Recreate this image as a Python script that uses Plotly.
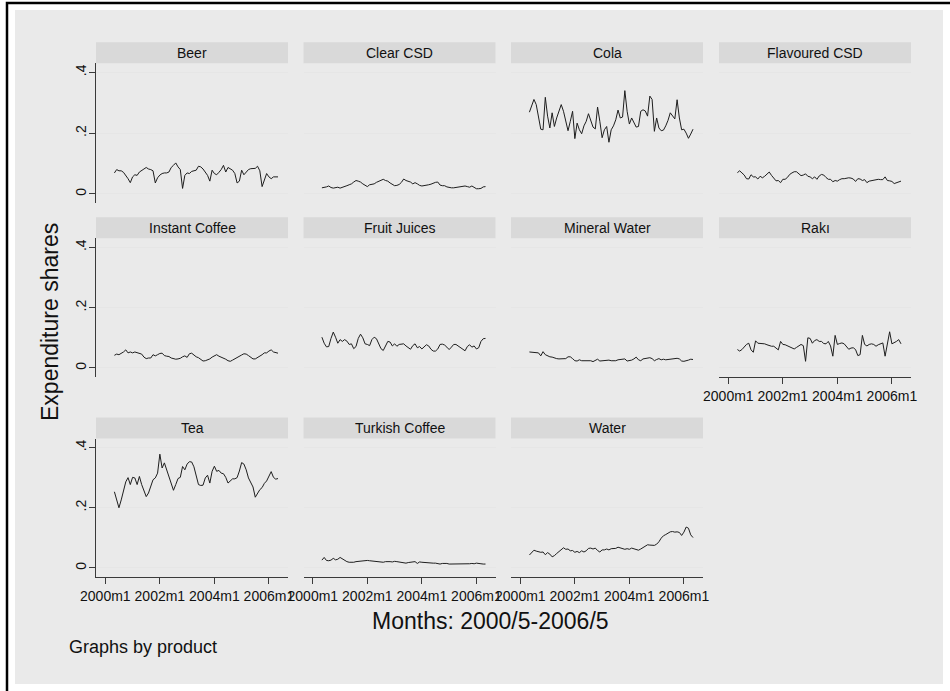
import plotly.graph_objects as go

# Monthly expenditure shares by product, 2000m5 - 2006m5 (Stata %tm month codes)
months = list(range(484, 557))
tick_months = [480, 504, 528, 552]
tick_labels = ["2000m1", "2002m1", "2004m1", "2006m1"]
share_ticks = [0, 0.2, 0.4]
share_labels = ["0", ".2", ".4"]

products = ["Beer", "Clear CSD", "Cola", "Flavoured CSD", "Instant Coffee",
            "Fruit Juices", "Mineral Water", "Rakı", "Tea", "Turkish Coffee", "Water"]

beer = [.069, .080, .076, .076, .071, .061, .050, .037, .056, .063,
        .061, .072, .076, .082, .087, .082, .080, .076, .036, .053,
        .062, .067, .069, .069, .072, .087, .094, .102, .089, .080,
        .018, .061, .069, .067, .074, .076, .078, .091, .089, .082,
        .072, .061, .042, .078, .067, .063, .071, .080, .094, .072,
        .087, .083, .078, .067, .036, .042, .078, .063, .072, .080,
        .083, .083, .084, .091, .076, .024, .045, .067, .056, .050,
        .056, .056, .056]
clear_csd = [.020, .021, .023, .026, .021, .019, .021, .022, .019, .021,
             .024, .027, .030, .033, .039, .044, .042, .039, .033, .028,
             .024, .030, .032, .033, .038, .042, .046, .048, .044, .042,
             .036, .030, .027, .028, .031, .038, .049, .044, .041, .039,
             .033, .037, .033, .028, .026, .027, .027, .030, .032, .036,
             .038, .039, .029, .027, .027, .023, .021, .020, .020, .021,
             .022, .023, .024, .026, .024, .022, .026, .020, .017, .017,
             .018, .023, .024]
cola = [.269, .289, .311, .294, .247, .213, .211, .318, .256, .217,
        .267, .222, .250, .270, .294, .272, .239, .208, .239, .272,
        .182, .233, .211, .198, .224, .239, .264, .244, .220, .214,
        .286, .239, .185, .211, .222, .170, .211, .224, .244, .276,
        .250, .253, .340, .272, .230, .250, .233, .220, .222, .272,
        .277, .273, .256, .322, .311, .206, .250, .217, .208, .210,
        .224, .242, .267, .256, .247, .310, .250, .211, .213, .200,
        .183, .197, .213]
flavoured_csd = [.070, .076, .069, .062, .050, .049, .063, .056, .056, .049,
                 .058, .053, .058, .066, .072, .061, .051, .043, .044, .037,
                 .048, .048, .054, .064, .069, .073, .073, .067, .060, .062,
                 .066, .058, .056, .050, .056, .048, .059, .064, .062, .054,
                 .048, .048, .040, .044, .042, .047, .050, .050, .052, .053,
                 .052, .049, .041, .050, .049, .044, .047, .037, .042, .044,
                 .044, .047, .048, .047, .047, .056, .044, .043, .041, .034,
                 .037, .039, .042]
instant_coffee = [.042, .046, .044, .048, .053, .060, .050, .053, .050, .053,
                  .050, .049, .046, .036, .031, .033, .033, .044, .040, .044,
                  .048, .049, .041, .039, .038, .033, .030, .029, .030, .032,
                  .037, .040, .035, .047, .049, .042, .037, .034, .028, .023,
                  .024, .027, .030, .036, .040, .044, .039, .036, .033, .029,
                  .024, .022, .026, .031, .036, .039, .043, .047, .046, .041,
                  .036, .030, .030, .034, .039, .044, .050, .050, .056, .060,
                  .053, .052, .049]
fruit_juices = [.102, .082, .070, .071, .098, .119, .102, .082, .094, .088,
                .094, .089, .078, .080, .064, .071, .098, .112, .100, .080,
                .078, .074, .094, .102, .097, .078, .064, .058, .073, .088,
                .086, .073, .080, .072, .078, .080, .080, .073, .068, .062,
                .074, .080, .067, .071, .063, .071, .077, .073, .062, .056,
                .056, .063, .078, .079, .076, .069, .061, .069, .078, .078,
                .073, .067, .062, .057, .071, .077, .069, .073, .063, .067,
                .088, .097, .098]
mineral_water = [.053, .052, .051, .050, .050, .040, .054, .044, .039, .037,
                 .036, .033, .031, .030, .031, .030, .031, .037, .037, .031,
                 .024, .023, .027, .024, .024, .024, .024, .024, .021, .024,
                 .029, .023, .024, .024, .026, .026, .024, .023, .024, .027,
                 .028, .029, .030, .023, .024, .026, .030, .036, .027, .024,
                 .030, .031, .032, .034, .031, .024, .028, .031, .027, .029,
                 .027, .028, .028, .029, .029, .032, .030, .023, .022, .023,
                 .026, .029, .028]
raki = [.061, .056, .061, .069, .078, .082, .060, .052, .090, .082,
        .082, .081, .080, .077, .074, .072, .072, .066, .060, .088,
        .078, .077, .073, .069, .066, .063, .068, .073, .078, .074,
        .022, .100, .098, .082, .091, .094, .088, .088, .081, .080,
        .088, .073, .039, .108, .078, .081, .083, .080, .070, .062,
        .066, .067, .061, .041, .044, .108, .078, .073, .078, .080,
        .078, .072, .077, .080, .083, .039, .078, .120, .080, .083,
        .088, .094, .080]
tea = [.253, .227, .200, .226, .257, .286, .300, .277, .301, .299,
       .277, .304, .277, .255, .237, .249, .268, .293, .299, .315,
       .378, .332, .349, .326, .301, .281, .258, .277, .297, .301,
       .337, .326, .345, .353, .352, .336, .301, .277, .274, .275,
       .299, .308, .282, .321, .338, .321, .324, .315, .313, .301,
       .282, .288, .296, .296, .300, .322, .350, .345, .326, .299,
       .286, .269, .235, .249, .260, .267, .281, .289, .307, .320,
       .301, .295, .297]
turkish_coffee = [.026, .035, .025, .024, .026, .032, .027, .029, .035, .030,
                  .024, .021, .019, .018, .019, .021, .022, .023, .024, .025,
                  .025, .024, .023, .022, .020, .020, .018, .019, .021, .022,
                  .021, .020, .022, .021, .020, .019, .019, .016, .018, .019,
                  .020, .021, .015, .020, .019, .018, .018, .016, .015, .016,
                  .016, .015, .013, .015, .016, .015, .013, .013, .012, .013,
                  .013, .012, .013, .013, .012, .014, .015, .014, .016, .014,
                  .014, .013, .013]
water = [.043, .053, .059, .056, .054, .052, .053, .044, .051, .046,
         .037, .041, .048, .055, .060, .067, .062, .063, .057, .058,
         .052, .055, .051, .057, .053, .057, .065, .066, .063, .066,
         .058, .053, .060, .060, .063, .060, .064, .064, .065, .069,
         .066, .065, .062, .064, .062, .066, .063, .060, .059, .063,
         .068, .073, .077, .076, .075, .075, .079, .087, .099, .107,
         .111, .115, .120, .121, .119, .120, .118, .108, .119, .136,
         .132, .110, .101]

series = [beer, clear_csd, cola, flavoured_csd, instant_coffee, fruit_juices,
          mineral_water, raki, tea, turkish_coffee, water]

# ---- page geometry (pixels) ----
W, H = 950, 691


def px(x):
    return x / W


def py(y):
    return 1 - y / H


col_left = [96, 303.5, 511, 719]
panel_w = 192
row_span = [(63.3, 203), (238.3, 377), (438.5, 577)]
strip_h = 21

FONT = "Liberation Sans, Arial, Helvetica, sans-serif"
INK = "#111111"
AXIS = "#3a3a3a"
GRID = "#e6e6e6"
BG = "#eaeaea"
STRIP = "#d9d9d9"

n_cols = 4
n_panels = len(products)
# last panel in each column carries the time axis
bottom_of_col = {}
for k in range(n_panels):
    bottom_of_col[k % n_cols] = k

fig = go.Figure()
layout_axes = {}
shapes = []
annotations = []

for k, (name, vals) in enumerate(zip(products, series)):
    r, c = divmod(k, n_cols)
    sfx = "" if k == 0 else str(k + 1)
    x0, x1 = col_left[c], col_left[c] + panel_w
    ytop, ybot = row_span[r]

    fig.add_trace(go.Scatter(
        x=months, y=vals, mode="lines",
        line=dict(color="#1e1e1e", width=1),
        xaxis="x" + sfx, yaxis="y" + sfx,
        showlegend=False, hoverinfo="skip"))

    show_x = bottom_of_col[c] == k
    show_y = c == 0

    layout_axes["xaxis" + sfx] = dict(
        domain=[px(x0), px(x1)], anchor="y" + sfx, automargin=False,
        range=[475.9, 560.4],
        tickmode="array", tickvals=tick_months, ticktext=tick_labels,
        showticklabels=show_x, ticks="outside" if show_x else "",
        ticklen=6, tickwidth=1, tickcolor=AXIS,
        showline=show_x, linecolor=AXIS, linewidth=1,
        showgrid=False, zeroline=False,
        tickfont=dict(family=FONT, size=14, color=INK))
    layout_axes["yaxis" + sfx] = dict(
        domain=[py(ybot), py(ytop)], anchor="x" + sfx, automargin=False,
        range=[-0.03, 0.43],
        tickmode="array", tickvals=share_ticks, ticktext=share_labels,
        showticklabels=show_y, ticks="outside" if show_y else "",
        ticklen=6, tickwidth=1, tickcolor=AXIS, tickangle=-90,
        ticklabelstandoff=-3,
        showline=show_y, linecolor=AXIS, linewidth=1,
        showgrid=True, gridcolor=GRID, gridwidth=1, zeroline=False,
        tickfont=dict(family=FONT, size=14, color=INK))

    # title strip above each panel
    shapes.append(dict(type="rect", xref="paper", yref="paper",
                       x0=px(x0), x1=px(x1), y0=py(ytop), y1=py(ytop - strip_h),
                       fillcolor=STRIP, line=dict(width=0), layer="below"))
    annotations.append(dict(text=name, xref="paper", yref="paper",
                            x=px((x0 + x1) / 2), y=py(ytop - strip_h / 2),
                            xanchor="center", yanchor="middle", showarrow=False,
                            font=dict(family=FONT, size=14, color=INK)))

# graph region and outer frame
shapes.insert(0, dict(type="rect", xref="paper", yref="paper",
                      x0=px(15), x1=px(943), y0=py(684), y1=py(10),
                      fillcolor=BG, line=dict(width=0), layer="below"))
shapes.append(dict(type="rect", xref="paper", yref="paper",
                   x0=px(7), x1=px(956), y0=py(697), y1=py(3),
                   fillcolor="rgba(0,0,0,0)", line=dict(color="black", width=2.5)))

annotations += [
    dict(text="Expenditure shares", xref="paper", yref="paper",
         x=px(50), y=py(322), textangle=-90, xanchor="center", yanchor="middle",
         showarrow=False, font=dict(family=FONT, size=23, color=INK)),
    dict(text="Months: 2000/5-2006/5", xref="paper", yref="paper",
         x=px(490), y=py(621), xanchor="center", yanchor="middle",
         showarrow=False, font=dict(family=FONT, size=23, color=INK)),
    dict(text="Graphs by product", xref="paper", yref="paper",
         x=px(67), y=py(647), xanchor="left", yanchor="middle",
         showarrow=False, font=dict(family=FONT, size=18, color=INK)),
]

fig.update_layout(
    width=W, height=H,
    margin=dict(l=0, r=0, t=0, b=0, autoexpand=False),
    paper_bgcolor="white", plot_bgcolor="white",
    shapes=shapes, annotations=annotations,
    **layout_axes)

fig.write_html("out.html")
